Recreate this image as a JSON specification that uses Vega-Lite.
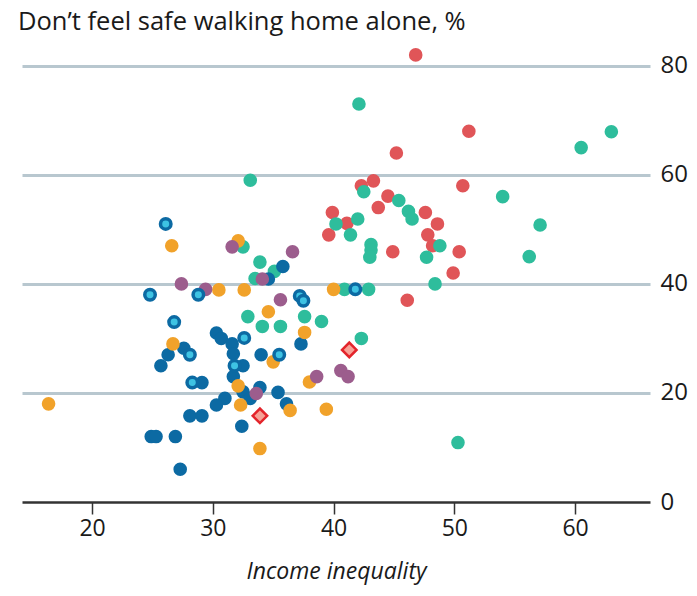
{
  "$schema": "https://vega.github.io/schema/vega-lite/v6.json",
  "autosize": {"type": "none"},
  "width": 628,
  "height": 458,
  "padding": {"left": 22, "top": 44, "right": 47, "bottom": 94},
  "background": "white",
  "title": {
    "text": "Don’t feel safe walking home alone, %",
    "anchor": "start",
    "frame": "group",
    "dx": -4,
    "offset": 9,
    "font": "Open Sans",
    "fontSize": 25.5,
    "fontWeight": "normal",
    "color": "#1a1a1a"
  },
  "config": {
    "view": {"stroke": null},
    "axis": {"labelFont": "Open Sans", "titleFont": "Open Sans"}
  },
  "data": {
    "values": [
      {"x": 46.8, "y": 82.0, "g": "r"}, {"x": 51.2, "y": 68.0, "g": "r"}, {"x": 45.2, "y": 64.0, "g": "r"},
      {"x": 50.7, "y": 58.0, "g": "r"}, {"x": 42.3, "y": 58.0, "g": "r"}, {"x": 43.3, "y": 58.9, "g": "r"},
      {"x": 44.5, "y": 56.1, "g": "r"}, {"x": 43.7, "y": 54.0, "g": "r"}, {"x": 47.6, "y": 53.1, "g": "r"},
      {"x": 48.6, "y": 51.0, "g": "r"}, {"x": 39.9, "y": 53.1, "g": "r"}, {"x": 41.1, "y": 51.1, "g": "r"},
      {"x": 39.6, "y": 49.0, "g": "r"}, {"x": 47.8, "y": 49.0, "g": "r"}, {"x": 48.2, "y": 47.0, "g": "r"},
      {"x": 44.9, "y": 45.9, "g": "r"}, {"x": 50.4, "y": 45.9, "g": "r"}, {"x": 49.9, "y": 42.0, "g": "r"},
      {"x": 46.1, "y": 37.0, "g": "r"},
      {"x": 42.1, "y": 73.0, "g": "t"}, {"x": 63.0, "y": 67.9, "g": "t"}, {"x": 60.5, "y": 65.0, "g": "t"},
      {"x": 33.1, "y": 59.0, "g": "t"}, {"x": 42.5, "y": 56.9, "g": "t"}, {"x": 45.4, "y": 55.3, "g": "t"},
      {"x": 54.0, "y": 56.0, "g": "t"}, {"x": 46.2, "y": 53.3, "g": "t"}, {"x": 46.5, "y": 51.9, "g": "t"},
      {"x": 40.2, "y": 51.0, "g": "t"}, {"x": 42.0, "y": 51.9, "g": "t"}, {"x": 41.4, "y": 49.0, "g": "t"},
      {"x": 48.8, "y": 47.0, "g": "t"}, {"x": 43.1, "y": 47.2, "g": "t"}, {"x": 43.1, "y": 46.2, "g": "t"},
      {"x": 43.0, "y": 44.9, "g": "t"}, {"x": 47.7, "y": 44.9, "g": "t"}, {"x": 48.4, "y": 40.0, "g": "t"},
      {"x": 57.1, "y": 50.8, "g": "t"}, {"x": 56.2, "y": 45.0, "g": "t"}, {"x": 40.9, "y": 39.0, "g": "t"},
      {"x": 42.9, "y": 39.0, "g": "t"}, {"x": 32.5, "y": 46.8, "g": "t"}, {"x": 33.9, "y": 44.0, "g": "t"},
      {"x": 35.1, "y": 42.3, "g": "t"}, {"x": 33.5, "y": 41.0, "g": "t"}, {"x": 32.9, "y": 34.0, "g": "t"},
      {"x": 37.6, "y": 34.0, "g": "t"}, {"x": 39.0, "y": 33.1, "g": "t"}, {"x": 34.1, "y": 32.2, "g": "t"},
      {"x": 35.6, "y": 32.2, "g": "t"}, {"x": 42.3, "y": 30.0, "g": "t"}, {"x": 50.3, "y": 10.9, "g": "t"},
      {"x": 35.8, "y": 43.2, "g": "b"}, {"x": 34.6, "y": 40.9, "g": "b"}, {"x": 30.3, "y": 31.0, "g": "b"},
      {"x": 30.7, "y": 30.0, "g": "b"}, {"x": 31.6, "y": 29.0, "g": "b"}, {"x": 27.6, "y": 28.2, "g": "b"},
      {"x": 26.3, "y": 27.0, "g": "b"}, {"x": 25.7, "y": 25.0, "g": "b"}, {"x": 31.7, "y": 27.2, "g": "b"},
      {"x": 32.5, "y": 25.0, "g": "b"}, {"x": 31.7, "y": 23.0, "g": "b"}, {"x": 29.1, "y": 21.9, "g": "b"},
      {"x": 31.0, "y": 19.0, "g": "b"}, {"x": 30.3, "y": 17.8, "g": "b"}, {"x": 32.5, "y": 20.2, "g": "b"},
      {"x": 28.1, "y": 15.8, "g": "b"}, {"x": 29.1, "y": 15.8, "g": "b"}, {"x": 24.9, "y": 12.0, "g": "b"},
      {"x": 25.3, "y": 12.0, "g": "b"}, {"x": 26.9, "y": 12.0, "g": "b"}, {"x": 32.4, "y": 13.9, "g": "b"},
      {"x": 27.3, "y": 6.0, "g": "b"}, {"x": 37.3, "y": 29.0, "g": "b"}, {"x": 34.0, "y": 27.0, "g": "b"},
      {"x": 33.9, "y": 21.0, "g": "b"}, {"x": 33.1, "y": 19.0, "g": "b"}, {"x": 35.4, "y": 20.1, "g": "b"},
      {"x": 36.1, "y": 18.0, "g": "b"},
      {"x": 26.1, "y": 51.0, "g": "c"}, {"x": 24.8, "y": 38.0, "g": "c"}, {"x": 28.8, "y": 38.0, "g": "c"},
      {"x": 26.8, "y": 33.0, "g": "c"}, {"x": 32.6, "y": 30.1, "g": "c"}, {"x": 28.1, "y": 27.0, "g": "c"},
      {"x": 31.8, "y": 25.0, "g": "c"}, {"x": 28.3, "y": 21.9, "g": "c"}, {"x": 41.8, "y": 39.0, "g": "c"},
      {"x": 37.2, "y": 37.8, "g": "c"}, {"x": 37.5, "y": 36.9, "g": "c"}, {"x": 35.5, "y": 27.0, "g": "c"},
      {"x": 16.4, "y": 18.0, "g": "o"}, {"x": 26.6, "y": 47.0, "g": "o"}, {"x": 32.1, "y": 47.9, "g": "o"},
      {"x": 30.5, "y": 38.9, "g": "o"}, {"x": 32.6, "y": 38.9, "g": "o"}, {"x": 26.7, "y": 29.0, "g": "o"},
      {"x": 32.1, "y": 21.3, "g": "o"}, {"x": 32.3, "y": 17.8, "g": "o"}, {"x": 40.0, "y": 39.0, "g": "o"},
      {"x": 34.6, "y": 34.9, "g": "o"}, {"x": 37.6, "y": 31.1, "g": "o"}, {"x": 35.0, "y": 25.7, "g": "o"},
      {"x": 38.0, "y": 22.0, "g": "o"}, {"x": 36.4, "y": 16.8, "g": "o"}, {"x": 39.4, "y": 17.0, "g": "o"},
      {"x": 33.9, "y": 9.8, "g": "o"},
      {"x": 31.6, "y": 46.8, "g": "p"}, {"x": 36.6, "y": 45.9, "g": "p"}, {"x": 27.4, "y": 40.0, "g": "p"},
      {"x": 29.4, "y": 39.0, "g": "p"}, {"x": 34.1, "y": 40.9, "g": "p"}, {"x": 35.6, "y": 37.1, "g": "p"},
      {"x": 38.6, "y": 23.0, "g": "p"}, {"x": 40.6, "y": 24.1, "g": "p"}, {"x": 41.2, "y": 23.0, "g": "p"},
      {"x": 33.6, "y": 19.9, "g": "p"},
      {"x": 41.3, "y": 27.9, "g": "d"}, {"x": 33.9, "y": 15.8, "g": "d"}
    ]
  },
  "encoding": {
    "x": {
      "field": "x", "type": "quantitative",
      "scale": {"domain": [14.2, 66.2], "nice": false, "zero": false},
      "axis": {
        "values": [20, 30, 40, 50, 60],
        "title": "Income inequality",
        "titleFontStyle": "italic",
        "titleFontWeight": "normal",
        "titleFontSize": 23,
        "titleColor": "#1a1a1a",
        "titlePadding": 20,
        "labelFontSize": 23,
        "labelColor": "#1a1a1a",
        "labelPadding": 3,
        "tickSize": 12,
        "tickWidth": 1.5,
        "tickColor": "#333333",
        "domainColor": "#333333",
        "domainWidth": 2.5,
        "grid": false
      }
    },
    "y": {
      "field": "y", "type": "quantitative",
      "scale": {"domain": [0, 84], "nice": false},
      "axis": {
        "orient": "right",
        "values": [0, 20, 40, 60, 80],
        "title": null,
        "domain": false,
        "ticks": false,
        "labelAlign": "left",
        "labelPadding": 10,
        "labelFontSize": 24,
        "labelColor": "#1a1a1a",
        "grid": true,
        "gridColor": "#b8c7cf",
        "gridWidth": 3,
        "gridOpacity": {"condition": {"test": "datum.value === 0", "value": 0}, "value": 1}
      }
    }
  },
  "layer": [
    {
      "transform": [{"filter": "indexof(['r','t','b','o','p'], datum.g) >= 0"}],
      "mark": {"type": "circle", "size": 185, "opacity": 1},
      "encoding": {
        "color": {
          "field": "g", "type": "nominal", "legend": null,
          "scale": {"domain": ["r", "t", "b", "o", "p"], "range": ["#e05558", "#2ebd9c", "#0c6aa3", "#f1a22a", "#9c5d8d"]}
        }
      }
    },
    {
      "transform": [{"filter": "datum.g === 'c'"}],
      "mark": {"type": "point", "shape": "circle", "filled": true, "size": 110, "opacity": 1, "fill": "#3ec3e3", "stroke": "#0c6aa3", "strokeWidth": 3.5}
    },
    {
      "transform": [{"filter": "datum.g === 'd'"}],
      "mark": {"type": "point", "shape": "diamond", "filled": true, "size": 210, "opacity": 1, "fill": "#f7a196", "stroke": "#e3242b", "strokeWidth": 2.5}
    }
  ]
}
